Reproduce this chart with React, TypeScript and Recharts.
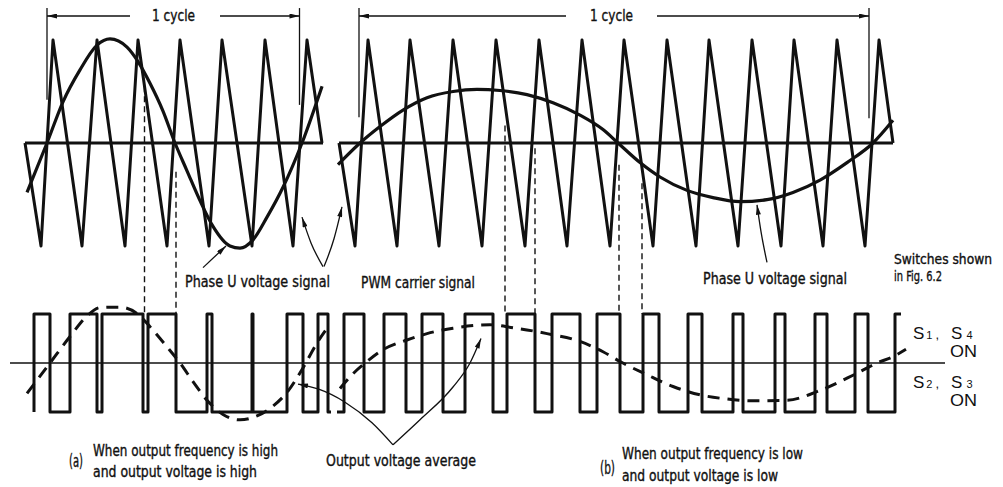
import { LineChart, Line, XAxis, YAxis } from "recharts";

const W = 1003;
const H = 487;
const INK = "#111";

// where the two drawing bands sit (pixel of the zero line, pixels per unit)
const TOP_Y = 143;
const TOP_AMP = 103;
const BOT_Y = 363;
const BOT_AMP = 49;

// ---- upper band: carrier and phase U signal (unit = carrier peak) ----
const carrierA: [number, number][] = [
  [25, 0], [41, -1], [53, 1], [82, -1], [97, 1], [125, -1], [138, 1], [167, -1], [180, 1],
  [209, -1], [222, 1], [252, -1], [265, 1], [293, -1], [307, 1], [322, 0],
];
const carrierB: [number, number][] = [
  [339, 0], [355, -1], [368, 1], [397, -1], [410, 1], [439, -1], [453, 1], [482, -1], [496, 1],
  [525, -1], [539, 1], [567, -1], [582, 1], [610, -1], [624, 1], [653, -1], [667, 1], [696, -1],
  [709, 1], [738, -1], [752, 1], [781, -1], [794, 1], [823, -1], [837, 1], [865, -1], [879, 1], [893, 0],
];
const zeroLineA: [number, number][] = [[25, 0], [323, 0]];
const zeroLineB: [number, number][] = [[339, 0], [893, 0]];

const phaseUA: [number, number][] = [
  [27, -0.48], [47, 0], [63, 0.4], [80, 0.71], [97, 0.95], [110, 1.01], [127, 0.93], [138, 0.79],
  [150, 0.58], [163, 0.31], [175, 0], [187, -0.27], [200, -0.56], [213, -0.81], [230, -1.0],
  [240, -1.02], [253, -0.94], [267, -0.72], [283, -0.43], [302, 0], [322, 0.55],
];
const phaseUB: [number, number][] = [
  [338, -0.21], [360, 0], [380, 0.16], [403, 0.32], [427, 0.44], [453, 0.5], [477, 0.52],
  [500, 0.51], [527, 0.47], [553, 0.39], [580, 0.27], [603, 0.13], [618, 0], [640, -0.19],
  [660, -0.33], [687, -0.46], [713, -0.53], [740, -0.57], [767, -0.55], [793, -0.48],
  [820, -0.36], [847, -0.19], [873, 0], [893, 0.22],
];

// "1 cycle" dimension marks
const cycleLeft = [47, 359];
const cycleRight = [299.5, 869];
const cycleGapStart = [130, 566];
const cycleGapEnd = [220, 657];
const cycleLeftFoot = [0.42, 0.25];
const cycleRightFoot = [0.37, 0.24];
const CYCLE_TOP = 1.31;
const CYCLE_DIM = 1.233;

// dashed guides from the crossings down to the switching edges
const guideX = [144.5, 176, 505, 535, 619, 642];
const guideFrom = [0.55, -0.28, 0.17, -0.05, -0.21, -0.39];

// ---- lower band: switch state and average output (unit = pulse height) ----
const pulseA: [number, number][] = [
  [34, -1], [34, 1], [50, -1], [70, 1], [97, -1], [102, 1], [143, -1], [148, 1], [176, -1],
  [207, 1], [212, -1], [252, 1], [253, -1], [287, 1], [303, -1], [318, 1], [328, -1], [331, -1],
];
const pulseB: [number, number][] = [
  [337, -1], [344, 1], [364, -1], [384, 1], [406, -1], [422, 1], [443, -1], [465, 1], [493, -1],
  [507, 1], [535, -1], [552, 1], [580, -1], [597, 1], [620, -1], [643, 1], [659, -1], [688, 1],
  [702, -1], [733, 1], [743, -1], [775, 1], [785, -1], [815, 1], [827, -1], [855, 1], [868, -1],
  [895, 1], [901, 1],
];
const outputLine: [number, number][] = [[10, 0], [945, 0]];

const averageA: [number, number][] = [
  [27, -0.62], [50, 0], [70, 0.54], [87, 0.96], [100, 1.13], [120, 1.14], [137, 1.01], [150, 0.74],
  [167, 0.33], [180, 0], [193, -0.38], [207, -0.76], [223, -1.05], [240, -1.16], [257, -1.08],
  [273, -0.88], [287, -0.6], [303, -0.1], [317, 0.41], [327, 0.71],
];
const averageB: [number, number][] = [
  [340, -0.52], [353, -0.22], [367, 0.03], [383, 0.27], [407, 0.47], [427, 0.6], [453, 0.71],
  [490, 0.78], [513, 0.72], [547, 0.6], [580, 0.44], [603, 0.23], [620, 0.03], [647, -0.24],
  [673, -0.48], [700, -0.65], [725, -0.73], [753, -0.77], [787, -0.76], [820, -0.56],
  [853, -0.25], [877, 0], [893, 0.13], [906, 0.28],
];

// leader lines for the labels
const leaderPhaseA: [number, number][] = [[203, -1.21], [226, -1.0]];
const leaderCarrierL: [number, number][] = [[302, -0.72], [311, -0.97], [323, -1.2]];
const leaderCarrierR: [number, number][] = [[324, -1.2], [334, -0.93], [342, -0.62]];
const leaderPhaseB: [number, number][] = [[757, -0.6], [761, -0.86], [767, -1.16]];
const leaderAvgL: [number, number][] = [[298, -0.43], [318, -0.53], [345, -0.8], [372, -1.22], [393, -1.67]];
const leaderAvgR: [number, number][] = [[393, -1.67], [420, -1.16], [453, -0.49], [470, 0], [481, 0.5]];

const pts = (a: [number, number][]) => a.map(([x, v]) => ({ x, v }));
const botToTop = (v: number) => (TOP_Y - (BOT_Y - v * BOT_AMP)) / TOP_AMP;

type Series = {
  key: string;
  data: { x: number; v: number }[];
  axis: "top" | "bot";
  w: number;
  dash?: string;
  curve?: "linear" | "monotone" | "stepAfter";
  start?: boolean;
  end?: boolean;
};

const series: Series[] = [
  { key: "zA", data: pts(zeroLineA), axis: "top", w: 3 },
  { key: "zB", data: pts(zeroLineB), axis: "top", w: 3 },
  { key: "cA", data: pts(carrierA), axis: "top", w: 3 },
  { key: "cB", data: pts(carrierB), axis: "top", w: 3 },
  { key: "uA", data: pts(phaseUA), axis: "top", w: 3.2, curve: "monotone" },
  { key: "uB", data: pts(phaseUB), axis: "top", w: 3.2, curve: "monotone" },
  { key: "out", data: pts(outputLine), axis: "bot", w: 1.4 },
  { key: "pA", data: pts(pulseA), axis: "bot", w: 3, curve: "stepAfter" },
  { key: "pB", data: pts(pulseB), axis: "bot", w: 3, curve: "stepAfter" },
  { key: "aA", data: pts(averageA), axis: "bot", w: 3, dash: "12 8", curve: "monotone" },
  { key: "aB", data: pts(averageB), axis: "bot", w: 3, dash: "12 8", curve: "monotone" },
  { key: "lPA", data: pts(leaderPhaseA), axis: "top", w: 1.3, end: true },
  { key: "lCL", data: pts(leaderCarrierL), axis: "top", w: 1.3, curve: "monotone", start: true },
  { key: "lCR", data: pts(leaderCarrierR), axis: "top", w: 1.3, curve: "monotone", end: true },
  { key: "lPB", data: pts(leaderPhaseB), axis: "top", w: 1.3, curve: "monotone", start: true },
  { key: "lAL", data: pts(leaderAvgL), axis: "bot", w: 1.3, curve: "monotone", start: true },
  { key: "lAR", data: pts(leaderAvgR), axis: "bot", w: 1.3, curve: "monotone", end: true },
];

guideX.forEach((x, i) => {
  series.push({
    key: "g" + i,
    data: [{ x, v: guideFrom[i] }, { x, v: botToTop(1) }],
    axis: "top",
    w: 1.4,
    dash: "6 4",
  });
});

cycleLeft.forEach((x, i) => {
  series.push({ key: "cl" + i, data: [{ x, v: CYCLE_TOP }, { x, v: cycleLeftFoot[i] }], axis: "top", w: 1.3 });
  series.push({ key: "cr" + i, data: [{ x: cycleRight[i], v: CYCLE_TOP }, { x: cycleRight[i], v: cycleRightFoot[i] }], axis: "top", w: 1.3 });
  series.push({ key: "dl" + i, data: [{ x: cycleGapStart[i], v: CYCLE_DIM }, { x, v: CYCLE_DIM }], axis: "top", w: 1.3, end: true });
  series.push({ key: "dr" + i, data: [{ x: cycleGapEnd[i], v: CYCLE_DIM }, { x: cycleRight[i], v: CYCLE_DIM }], axis: "top", w: 1.3, end: true });
});

const labels = [
  { t: "1 cycle", x: 152, y: 21, w: 43, s: 15 },
  { t: "1 cycle", x: 590, y: 21, w: 43, s: 15 },
  { t: "Phase U voltage signal", x: 185, y: 287, w: 145, s: 15 },
  { t: "PWM carrier signal", x: 361, y: 288, w: 114, s: 15 },
  { t: "Phase U voltage signal", x: 703, y: 284, w: 144, s: 15 },
  { t: "Switches shown", x: 894, y: 264, w: 98, s: 14 },
  { t: "in Fig. 6.2", x: 894, y: 281, w: 48, s: 14 },
  { t: "When output frequency is high", x: 93, y: 456, w: 185, s: 15 },
  { t: "and output voltage is high", x: 93, y: 477, w: 164, s: 15 },
  { t: "Output voltage average", x: 326, y: 466, w: 150, s: 15 },
  { t: "When output frequency is low", x: 622, y: 459, w: 181, s: 15 },
  { t: "and output voltage is low", x: 622, y: 481, w: 156, s: 15 },
  { t: "(a)", x: 69, y: 467, w: 14, s: 18 },
  { t: "(b)", x: 600, y: 474, w: 15, s: 18 },
];

const sw = [
  { a: "1", b: "4", y: 339, on: 357 },
  { a: "2", b: "3", y: 388, on: 406 },
];

const FONT = "'DejaVu Sans Condensed', 'Liberation Sans Narrow', sans-serif";

export default function App() {
  return (
    <div style={{ position: "absolute", left: 0, top: 0, width: W, height: H, background: "#fff" }}>
      <svg width={0} height={0} style={{ position: "absolute" }}>
        <defs>
          <marker id="arrow" viewBox="0 0 12 6" refX={12} refY={3} markerWidth={12} markerHeight={5}
            markerUnits="userSpaceOnUse" orient="auto-start-reverse">
            <path d="M0,0 L12,3 L0,6 Z" fill={INK} />
          </marker>
        </defs>
      </svg>
      <LineChart width={W} height={H} margin={{ top: 0, right: 0, bottom: 0, left: 0 }}>
        <XAxis type="number" dataKey="x" domain={[0, W]} hide allowDataOverflow />
        <YAxis yAxisId="top" type="number" domain={[(TOP_Y - H) / TOP_AMP, TOP_Y / TOP_AMP]} hide allowDataOverflow />
        <YAxis yAxisId="bot" type="number" domain={[(BOT_Y - H) / BOT_AMP, BOT_Y / BOT_AMP]} hide allowDataOverflow />
        {series.map((s) => (
          <Line
            key={s.key}
            data={s.data}
            dataKey="v"
            yAxisId={s.axis}
            type={s.curve ?? "linear"}
            stroke={INK}
            strokeWidth={s.w}
            strokeDasharray={s.dash}
            strokeLinejoin="round"
            markerStart={s.start ? "url(#arrow)" : undefined}
            markerEnd={s.end ? "url(#arrow)" : undefined}
            dot={false}
            activeDot={false}
            isAnimationActive={false}
          />
        ))}
      </LineChart>
      <svg width={W} height={H} style={{ position: "absolute", left: 0, top: 0, pointerEvents: "none" }}>
        <g fontFamily={FONT} fill={INK} stroke={INK} strokeWidth={0.35}>
          {labels.map((l, i) => (
            <text key={i} x={l.x} y={l.y} fontSize={l.s}
              textLength={l.w} lengthAdjust="spacingAndGlyphs">{l.t}</text>
          ))}
        </g>
        {sw.map((r, i) => (
          <g key={i} fontFamily="'Liberation Sans', sans-serif" fill={INK}>
            <text x={913} y={r.y} fontSize={17}>
              <tspan>S</tspan>
              <tspan fontSize={11} dx={2}>{r.a}</tspan>
              <tspan fontSize={13} dx={3}>,</tspan>
              <tspan dx={12}>S</tspan>
              <tspan fontSize={11} dx={4}>{r.b}</tspan>
            </text>
            <text x={950} y={r.on} fontSize={17} textLength={27} lengthAdjust="spacingAndGlyphs">ON</text>
          </g>
        ))}
      </svg>
    </div>
  );
}
